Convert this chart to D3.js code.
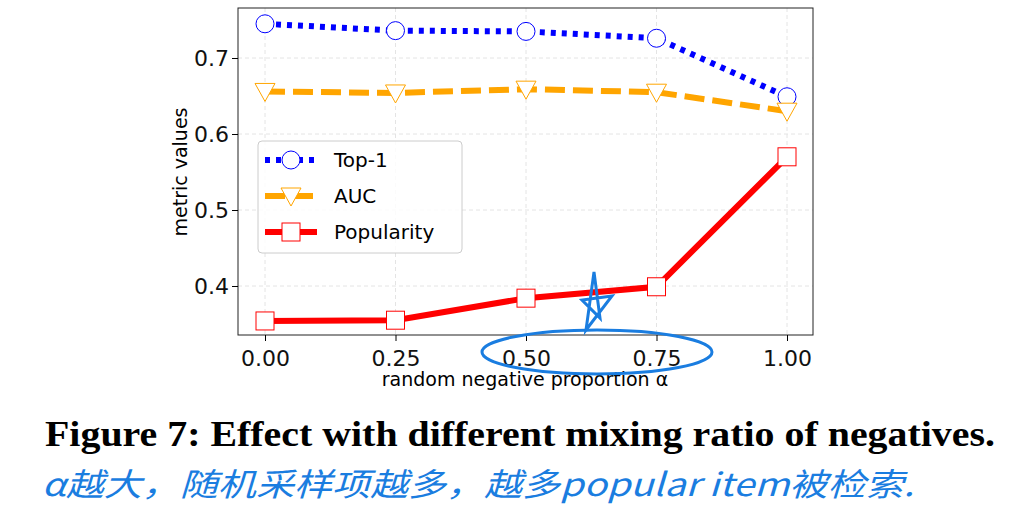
<!DOCTYPE html>
<html><head><meta charset="utf-8">
<script src="https://cdn.jsdelivr.net/npm/d3@7"></script>
<style>body{margin:0;background:#fff}</style>
</head><body>
<script>
const alphas = [0, 0.25, 0.5, 0.75, 1.0];
const xTicks = ["0.00", "0.25", "0.50", "0.75", "1.00"];
const top1 = [0.745, 0.736, 0.735, 0.726, 0.649];
const auc = [0.656, 0.654, 0.659, 0.655, 0.630];
const popularity = [0.354, 0.355, 0.384, 0.399, 0.570];
const yTicks = [0.4, 0.5, 0.6, 0.7];

const w = 1036, h = 510;
const svg = d3.select("body").append("svg").attr("width", w).attr("height", h);
const L = 238, R = 813, T = 8, B = 335;
const x = d3.scaleLinear().domain([0, 1]).range([265, 787]);
const y = d3.scaleLinear().domain([0.4, 0.7]).range([286, 58]);

// grid
svg.append("g").selectAll("line").data(yTicks).enter().append("line")
  .attr("x1", L).attr("x2", R).attr("y1", d => y(d)).attr("y2", d => y(d))
  .attr("stroke", "#e4e4e4").attr("stroke-dasharray", "4,3");
svg.append("g").selectAll("line").data(alphas).enter().append("line")
  .attr("y1", T).attr("y2", B).attr("x1", d => x(d)).attr("x2", d => x(d))
  .attr("stroke", "#e4e4e4").attr("stroke-dasharray", "4,3");

svg.append("rect").attr("x", L).attr("y", T).attr("width", R - L).attr("height", B - T)
  .attr("fill", "none").attr("stroke", "#222").attr("stroke-width", 1);

const xa = svg.append("g").attr("transform", `translate(0,${B})`)
  .call(d3.axisBottom(x).tickValues(alphas).tickFormat((d, i) => xTicks[i]).tickSizeOuter(0));
const ya = svg.append("g").attr("transform", `translate(${L},0)`)
  .call(d3.axisLeft(y).tickValues(yTicks).tickFormat(d3.format(".1f")).tickSizeOuter(0));
[xa, ya].forEach(a => {
  a.select(".domain").remove();
  a.selectAll("text").attr("font-family", "DejaVu Sans").attr("font-size", 22).attr("fill", "#111");
});
xa.selectAll("text").attr("dy", "1.0em");
ya.selectAll("text").attr("dy", "0.35em");

svg.append("text").attr("x", 525).attr("y", 386).attr("text-anchor", "middle")
  .attr("font-family", "DejaVu Sans").attr("font-size", 19).text("random negative proportion α");
svg.append("text").attr("transform", "translate(187,172) rotate(-90)").attr("text-anchor", "middle")
  .attr("font-family", "DejaVu Sans").attr("font-size", 19).text("metric values");

const series = [
  {name: "Top-1", vals: top1, color: "#0000ff", dash: "5,6", width: 6, marker: "circle"},
  {name: "AUC", vals: auc, color: "#ffa500", dash: "20,8", width: 6, marker: "tri"},
  {name: "Popularity", vals: popularity, color: "#ff0000", dash: null, width: 6, marker: "square"}
];
const line = d3.line().x((d, i) => x(alphas[i])).y(d => y(d));
function marker(g, type, cx, cy, color) {
  if (type === "circle") g.append("circle").attr("cx", cx).attr("cy", cy).attr("r", 9);
  else if (type === "tri") g.append("path").attr("d", `M${cx - 10},${cy - 8}L${cx + 10},${cy - 8}L${cx},${cy + 10}Z`);
  else g.append("rect").attr("x", cx - 9).attr("y", cy - 9).attr("width", 18).attr("height", 18);
  g.selectAll("*").attr("fill", "#fff").attr("stroke", color).attr("stroke-width", 1);
}
series.forEach(s => {
  svg.append("path").datum(s.vals).attr("d", line).attr("fill", "none")
    .attr("stroke", s.color).attr("stroke-width", s.width).attr("stroke-dasharray", s.dash);
  s.vals.forEach((v, i) => marker(svg.append("g"), s.marker, x(alphas[i]), y(v), s.color));
});

// legend
const lg = svg.append("g");
lg.append("rect").attr("x", 258).attr("y", 141).attr("width", 204).attr("height", 112).attr("rx", 4)
  .attr("fill", "#fff").attr("fill-opacity", 0.85).attr("stroke", "#ccc");
series.forEach((s, i) => {
  const yy = 160 + i * 36;
  lg.append("line").attr("x1", 265).attr("x2", 317).attr("y1", yy).attr("y2", yy)
    .attr("stroke", s.color).attr("stroke-width", s.width).attr("stroke-dasharray", s.dash);
  marker(lg.append("g"), s.marker, 291, yy, s.color);
  lg.append("text").attr("x", 334).attr("y", yy + 7).attr("font-family", "DejaVu Sans")
    .attr("font-size", 20).text(s.name);
});

svg.append("text").attr("x", 45).attr("y", 446)
  .attr("font-family", "Liberation Serif").attr("font-weight", "bold").attr("font-size", 35)
  .attr("textLength", 950).attr("lengthAdjust", "spacingAndGlyphs")
  .text("Figure 7: Effect with different mixing ratio of negatives.");

// handwritten annotations
svg.append("ellipse").attr("cx", 597).attr("cy", 352).attr("rx", 115).attr("ry", 22)
  .attr("fill", "none").attr("stroke", "#1a7de0").attr("stroke-width", 3);
svg.append("path").attr("d", "M594,272L600,318L582,300L612,296L586,330Z")
  .attr("fill", "none").attr("stroke", "#1a7de0").attr("stroke-width", 3);
svg.append("text").attr("x", 42).attr("y", 496).attr("font-family", "Noto Sans CJK SC")
  .attr("font-size", 32).attr("fill", "#1a7de0").attr("font-style", "italic")
  .attr("textLength", 872).attr("lengthAdjust", "spacingAndGlyphs")
  .text("α越大，随机采样项越多，越多popular item被检索.");
</script>
</body></html>
